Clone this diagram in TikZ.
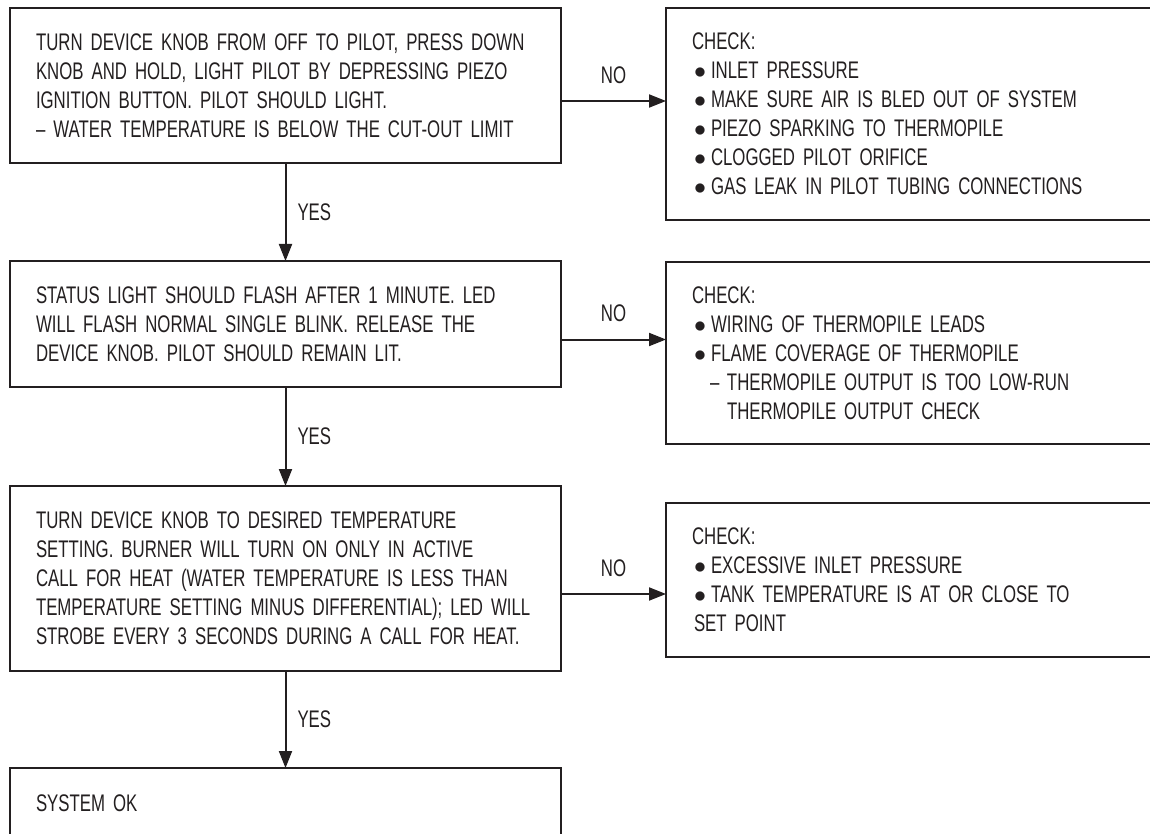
\documentclass[tikz,border=0pt]{standalone}
\usepackage{fontspec}
\setmainfont{Liberation Sans}[FakeStretch=0.70]
\usetikzlibrary{arrows.meta}
\definecolor{ink}{HTML}{231F20}
\newcommand{\itm}{\makebox[9.5pt][l]{\hspace{1pt}$\bullet$}}
\newcommand{\subitm}{\hspace*{9pt}\makebox[8.5pt][l]{–}}

\begin{document}
\begin{tikzpicture}[x=0.5pt,y=-0.5pt]
        \tikzset{every node/.style={font=\fontsize{12pt}{14.5pt}\selectfont, text=ink},
            frame/.style={draw=ink, line width=1pt, inner xsep=13pt, inner ysep=0pt,
                outer sep=0pt, anchor=north west, align=left},
            stepbox/.style={frame, minimum width=275.5pt, text width=249.5pt},
            checkbox/.style={frame, minimum width=252pt, text width=226pt},
            answer/.style={inner sep=0pt},
            flow/.style={draw=ink, line width=1pt, -{Triangle[length=8.5pt,width=6.5pt]}}}
        \useasboundingbox (0,0) rectangle (1150,834);
        \clip (0,0) rectangle (1150,834);

        \node[stepbox, minimum height=77.5pt] (b1) at (10,8)
            {\mbox{TURN DEVICE KNOB FROM OFF TO PILOT, PRESS DOWN}\\
             \mbox{KNOB AND HOLD, LIGHT PILOT BY DEPRESSING PIEZO}\\
             IGNITION BUTTON. PILOT SHOULD LIGHT.\\
             \mbox{– WATER TEMPERATURE IS BELOW THE CUT-OUT LIMIT}};
        \node[stepbox, minimum height=63pt] (b2) at (10,261)
            {STATUS LIGHT SHOULD FLASH AFTER 1 MINUTE. LED\\
             WILL FLASH NORMAL SINGLE BLINK. RELEASE THE\\
             DEVICE KNOB. PILOT SHOULD REMAIN LIT.};
        \node[stepbox, minimum height=92.5pt] (b3) at (10,486)
            {TURN DEVICE KNOB TO DESIRED TEMPERATURE\\
             SETTING. BURNER WILL TURN ON ONLY IN ACTIVE\\
             \mbox{CALL FOR HEAT (WATER TEMPERATURE IS LESS THAN}\\
             \mbox{TEMPERATURE SETTING MINUS DIFFERENTIAL); LED WILL}\\
             \mbox{STROBE EVERY 3 SECONDS DURING A CALL FOR HEAT.}};
        \node[stepbox, minimum height=35pt] (b4) at (10,768) {SYSTEM OK};

        \node[checkbox, minimum height=106pt] (c1) at (666,8)
            {CHECK:\\
             \itm INLET PRESSURE\\
             \itm MAKE SURE AIR IS BLED OUT OF SYSTEM\\
             \itm PIEZO SPARKING TO THERMOPILE\\
             \itm CLOGGED PILOT ORIFICE\\
             \itm GAS LEAK IN PILOT TUBING CONNECTIONS};
        \node[checkbox, minimum height=91pt] (c2) at (666,262)
            {CHECK:\\
             \itm WIRING OF THERMOPILE LEADS\\
             \itm FLAME COVERAGE OF THERMOPILE\\
             \subitm THERMOPILE OUTPUT IS TOO LOW-RUN\\
             \hspace*{17.5pt}THERMOPILE OUTPUT CHECK};
        \node[checkbox, minimum height=77pt] (c3) at (666,503)
            {CHECK:\\
             \itm EXCESSIVE INLET PRESSURE\\
             \itm TANK TEMPERATURE IS AT OR CLOSE TO\\
             \hspace*{1pt}SET POINT};

        \draw[flow] (b1.south) -- node[answer, right=5.5pt] {YES} (b2.north);
        \draw[flow] (b2.south) -- node[answer, right=5.5pt] {YES} (b3.north);
        \draw[flow] (b3.south) -- node[answer, right=5.5pt] {YES} (b4.north);

        \coordinate (n1) at ([yshift=-7.75pt]b1.east);
        \coordinate (n2) at ([yshift=-7.75pt]b2.east);
        \coordinate (n3) at ([yshift=-7.75pt]b3.east);
        \draw[flow] (n1) -- node[answer, above=8.25pt] {NO} (n1 -| c1.west);
        \draw[flow] (n2) -- node[answer, above=8.25pt] {NO} (n2 -| c2.west);
        \draw[flow] (n3) -- node[answer, above=8.25pt] {NO} (n3 -| c3.west);
\end{tikzpicture}
\end{document}
